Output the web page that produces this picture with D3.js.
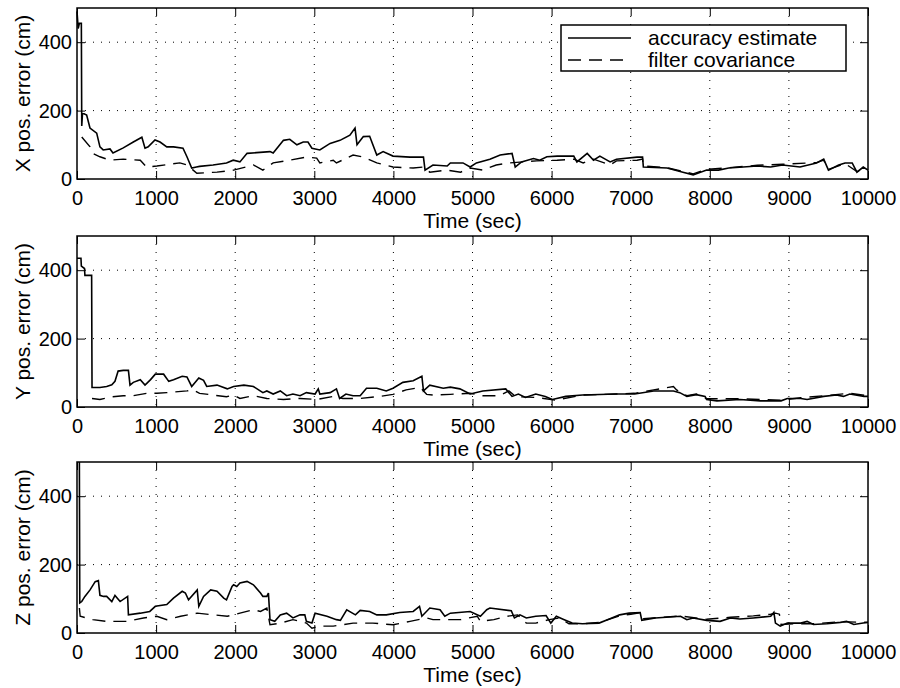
<!DOCTYPE html>
<html>
<head>
<meta charset="utf-8">
<script src="https://cdn.jsdelivr.net/npm/d3@7"></script>
<style>
  body { margin: 0; background: #fff; }
  text { font-family: "Liberation Sans", Arial, Helvetica, sans-serif; fill: #000; }
  .axis text { font-size: 20px; }
  .axis line { stroke: #000; stroke-width: 1; }
  .Grid { stroke: #000; stroke-width: 1; stroke-dasharray: 1,7; }
  .AxisLabel { font-size: 21px; }
  .Accuracy { fill: none; stroke: #000; stroke-width: 1.6; }
  .Covariance { fill: none; stroke: #000; stroke-width: 1.4; stroke-dasharray: 13,8; }
</style>
</head>
<body>
<div id="ChartContainer"></div>
<script>
// time axis ticks, error axis ticks
var timeTicks = [0, 1000, 2000, 3000, 4000, 5000, 6000, 7000, 8000, 9000, 10000]
var errorTicks = [0, 200, 400]
var panelLabels = ["X pos. error (cm)", "Y pos. error (cm)", "Z pos. error (cm)"]
var legendLabels = ["accuracy estimate", "filter covariance"]

// [time (sec), error (cm)]
var xAccuracy = [[0,490],[15,440],[30,455],[55,455],[60,155],[70,193],[122,187],[164,149],[249,134],[290,94],[331,85],[417,88],[455,76],[585,91],[712,108],[820,122],[860,90],[900,94],[986,114],[1050,108],[1135,94],[1220,94],[1340,90],[1390,65],[1450,32],[1510,35],[1550,37],[1720,41],[1890,47],[1975,55],[2060,50],[2150,75],[2270,77],[2440,80],[2480,76],[2610,113],[2690,116],[2780,100],[2860,108],[2920,108],[2970,90],[3070,85],[3200,104],[3325,113],[3450,128],[3515,149],[3540,100],[3620,124],[3700,125],[3790,70],[3870,80],[3995,67],[4210,64],[4380,64],[4400,26],[4500,41],[4680,38],[4720,47],[4880,47],[4970,35],[5050,47],[5220,58],[5350,70],[5500,75],[5540,35],[5620,50],[5770,60],[5850,55],[5940,65],[6070,67],[6280,67],[6320,50],[6450,75],[6530,55],[6610,67],[6740,50],[6820,58],[7080,64],[7150,64],[7160,35],[7460,32],[7660,20],[7790,12],[7960,26],[8110,26],[8240,32],[8420,35],[8600,38],[8770,35],[8920,41],[9140,35],[9350,47],[9440,58],[9500,26],[9630,41],[9710,47],[9800,47],[9860,20],[9940,35],[10000,26]]
var xCovariance = [[60,123],[165,94],[200,75],[290,65],[417,55],[585,58],[800,55],[880,35],[1010,38],[1300,47],[1390,41],[1515,17],[1770,20],[1980,26],[2230,41],[2350,26],[2480,47],[2690,55],[2900,64],[3030,61],[3070,47],[3240,55],[3280,47],[3490,70],[3620,64],[3790,47],[3995,35],[4250,32],[4380,35],[4460,20],[4680,26],[4850,20],[4970,32],[5130,26],[5300,41],[5470,47],[5810,53],[6070,55],[6280,58],[6400,47],[6530,58],[6740,41],[6820,53],[7080,55],[7150,58],[7160,38],[7460,33],[7660,22],[7790,15],[7960,28],[8240,33],[8600,40],[8920,43],[9350,48],[9440,55],[9500,28],[9710,45],[9860,22],[10000,28]]

var yAccuracy = [[0,435],[50,435],[55,412],[95,405],[100,385],[185,385],[190,57],[290,57],[375,60],[440,65],[480,75],[520,105],[585,107],[650,107],[670,64],[712,72],[800,80],[860,64],[930,80],[990,96],[1095,96],[1160,75],[1220,80],[1330,90],[1390,88],[1450,60],[1540,85],[1600,78],[1640,60],[1770,64],[1900,53],[1980,60],[2110,64],[2230,60],[2350,42],[2400,47],[2480,38],[2570,47],[2650,33],[2730,38],[2820,33],[2900,42],[3010,38],[3050,53],[3070,38],[3200,42],[3280,53],[3320,25],[3400,38],[3490,33],[3580,33],[3660,55],[3790,55],[3910,47],[3995,55],[4120,72],[4250,77],[4360,90],[4380,47],[4460,64],[4630,55],[4720,58],[4840,53],[4970,38],[5130,47],[5420,53],[5500,31],[5580,38],[5670,28],[5800,38],[5920,31],[6010,22],[6180,31],[6390,35],[6820,38],[7050,38],[7290,47],[7540,47],[7620,42],[7710,31],[7830,36],[7940,31],[7960,22],[8090,18],[8380,22],[8640,18],[8900,18],[8980,25],[9150,25],[9230,22],[9440,31],[9600,35],[9690,31],[9770,38],[9950,31],[10000,31]]
var yCovariance = [[190,25],[290,22],[417,29],[585,33],[712,33],[880,40],[1010,40],[1135,42],[1390,47],[1470,50],[1550,40],[1720,35],[1890,30],[1980,35],[2060,25],[2230,33],[2400,25],[2610,22],[2820,25],[3030,22],[3240,31],[3360,25],[3580,25],[3830,31],[3995,37],[4160,50],[4340,57],[4420,37],[4500,35],[4720,37],[4970,40],[5130,33],[5340,33],[5460,47],[5550,30],[5800,28],[6050,20],[6390,35],[6820,38],[7050,40],[7290,50],[7540,60],[7580,50],[7620,44],[7710,33],[7830,38],[7960,24],[8380,24],[8900,20],[9150,27],[9440,33],[9770,40],[10000,33]]

var zAccuracy = [[30,500],[35,88],[60,92],[100,107],[165,126],[230,150],[270,153],[290,110],[335,107],[375,107],[440,92],[480,110],[545,92],[640,107],[650,53],[800,58],[920,63],[990,78],[1135,83],[1220,102],[1330,122],[1370,117],[1410,97],[1520,126],[1540,78],[1600,107],[1690,126],[1770,122],[1855,102],[1890,97],[1960,136],[1980,141],[2020,136],[2060,146],[2150,151],[2230,141],[2320,117],[2350,107],[2400,107],[2420,117],[2440,39],[2500,34],[2570,53],[2650,58],[2730,44],[2820,53],[2880,53],[2900,34],[2970,29],[3010,58],[3160,49],[3280,39],[3330,37],[3410,68],[3520,53],[3580,66],[3700,63],[3790,53],[3910,53],[4080,60],[4250,63],[4330,78],[4360,49],[4460,73],[4590,68],[4650,49],[4720,58],[4970,63],[5100,49],[5180,68],[5220,73],[5490,65],[5530,44],[5600,53],[5680,44],[5800,49],[5930,51],[5990,29],[6060,49],[6160,39],[6260,29],[6390,27],[6600,29],[6730,41],[6860,53],[6980,58],[7120,60],[7140,37],[7310,44],[7630,49],[7710,39],[7790,44],[7960,37],[8130,34],[8260,44],[8380,41],[8550,44],[8770,49],[8810,60],[8830,29],[8890,20],[8980,29],[9150,29],[9230,34],[9310,25],[9480,27],[9650,31],[9730,34],[9820,25],[9940,29],[10000,31]]
var zCovariance = [[30,73],[40,49],[120,44],[200,39],[375,34],[630,34],[840,44],[1010,49],[1135,39],[1310,49],[1520,58],[1730,53],[1900,49],[2060,58],[2230,68],[2320,63],[2400,73],[2440,24],[2570,29],[2730,39],[2900,29],[2970,14],[3070,20],[3240,20],[3490,29],[3740,29],[3995,24],[4210,34],[4420,44],[4500,39],[4850,39],[5060,49],[5100,34],[5270,39],[5440,49],[5570,53],[5680,29],[5800,29],[5970,39],[6100,44],[6220,27],[6390,27],[6600,31],[6860,50],[7000,55],[7140,60],[7160,42],[7630,50],[7960,40],[8260,46],[8550,50],[8770,55],[8830,58],[8880,55],[8900,25],[9100,27],[9310,27],[9650,33],[10000,31]]

var fullWidth = 900
var fullHeight = 688
var margin = { left: 77, right: 32 }
var width = fullWidth - margin.left - margin.right
var panelHeight = 171
var panelTops = [8, 236, 462]
var tickLen = 8

var panels = [
  { label: panelLabels[0], accuracy: xAccuracy, covariance: xCovariance },
  { label: panelLabels[1], accuracy: yAccuracy, covariance: yCovariance },
  { label: panelLabels[2], accuracy: zAccuracy, covariance: zCovariance },
]

var svg = d3.select("#ChartContainer").append("svg")
  .attr("width", fullWidth)
  .attr("height", fullHeight)

var x = d3.scaleLinear().domain([0, 10000]).range([0, width])
var y = d3.scaleLinear().domain([0, 500]).range([panelHeight, 0])

var line = d3.line()
  .x(d => x(d[0]))
  .y(d => y(d[1]))

panels.forEach((panel, i) => {
  var g = svg.append("g")
    .attr("transform", `translate(${margin.left},${panelTops[i]})`)

  // dotted grid
  g.selectAll(".GridX")
    .data(timeTicks.slice(1, -1))
    .enter().append("line")
    .attr("class", "Grid")
    .attr("x1", d => x(d)).attr("x2", d => x(d))
    .attr("y1", 0).attr("y2", panelHeight)
  g.selectAll(".GridY")
    .data(errorTicks.slice(1))
    .enter().append("line")
    .attr("class", "Grid")
    .attr("x1", 0).attr("x2", width)
    .attr("y1", d => y(d)).attr("y2", d => y(d))

  g.append("path")
    .datum(panel.covariance)
    .attr("class", "Covariance")
    .attr("d", line)
  g.append("path")
    .datum(panel.accuracy)
    .attr("class", "Accuracy")
    .attr("d", line)

  // axes with inward ticks on all four sides
  g.append("g")
    .attr("class", "axis")
    .attr("transform", `translate(0,${panelHeight})`)
    .call(d3.axisBottom(x).tickValues(timeTicks).tickSize(-tickLen).tickPadding(12).tickFormat(d3.format("d")))
  g.append("g")
    .attr("class", "axis")
    .call(d3.axisTop(x).tickValues(timeTicks).tickSize(-tickLen).tickFormat(""))
  g.append("g")
    .attr("class", "axis")
    .call(d3.axisLeft(y).tickValues(errorTicks).tickSize(-tickLen).tickPadding(5))
  g.append("g")
    .attr("class", "axis")
    .attr("transform", `translate(${width},0)`)
    .call(d3.axisRight(y).tickValues(errorTicks).tickSize(-tickLen).tickFormat(""))
  g.selectAll(".axis .domain").remove()

  g.append("rect")
    .attr("width", width)
    .attr("height", panelHeight)
    .attr("fill", "none")
    .attr("stroke", "#000")
    .attr("stroke-width", 1.5)

  g.append("text")
    .attr("class", "AxisLabel")
    .attr("x", width / 2)
    .attr("y", panelHeight + 49)
    .attr("text-anchor", "middle")
    .text("Time (sec)")

  g.append("text")
    .attr("class", "AxisLabel")
    .attr("transform", "rotate(-90)")
    .attr("x", -panelHeight / 2)
    .attr("y", -margin.left + 30)
    .attr("text-anchor", "middle")
    .text(panel.label)
})

// Legend
var legend = svg.append("g")
legend.append("rect")
  .attr("x", 561).attr("y", 25)
  .attr("width", 285).attr("height", 46)
  .attr("fill", "#fff")
  .attr("stroke", "#000")
  .attr("stroke-width", 1.5)
legend.append("line")
  .attr("class", "Accuracy")
  .attr("x1", 568).attr("x2", 631)
  .attr("y1", 38).attr("y2", 38)
legend.append("line")
  .attr("class", "Covariance")
  .attr("x1", 568).attr("x2", 631)
  .attr("y1", 60).attr("y2", 60)
legend.selectAll(".LegendText")
  .data(legendLabels)
  .enter().append("text")
  .attr("class", "AxisLabel")
  .attr("x", 648)
  .attr("y", (d, i) => 45 + i * 22)
  .text(d => d)
</script>
</body>
</html>
